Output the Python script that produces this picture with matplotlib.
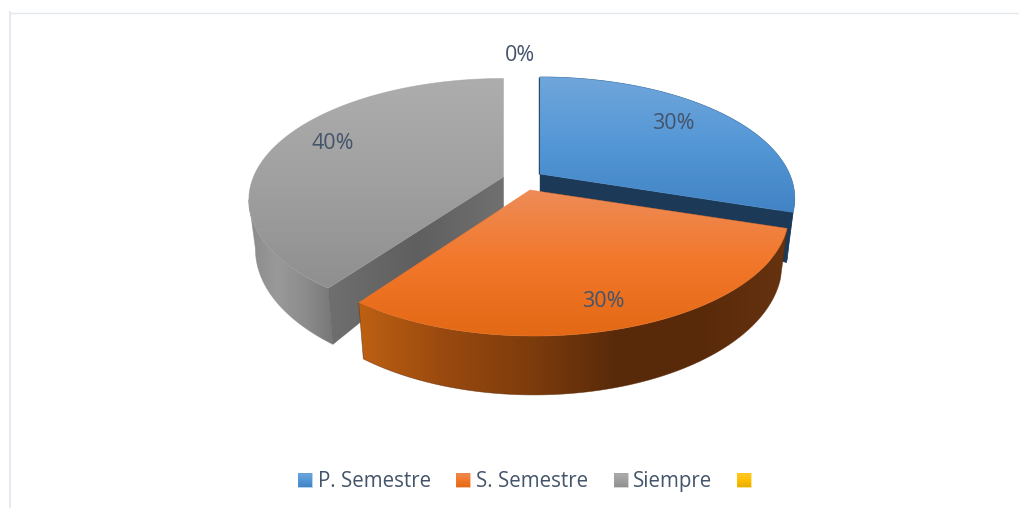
import numpy as np
import matplotlib
matplotlib.use("Agg")
import matplotlib.pyplot as plt
from matplotlib.patches import Polygon
from matplotlib.colors import LinearSegmentedColormap as LSC

categories = ["P. Semestre", "S. Semestre", "Siempre", ""]
values = [30, 30, 40, 0]

# view parameters of the exploded perspective pie (pixels)
RX, RY, K, DEPTH, SHRINK = 249.5, 116.6, 0.2017, 47.0, 0.026
APEX_DEPTH = 30.0
origins = [(540, 174), (534, 190), (503.5, 175.5), (520, 176)]
apex_pts = [(540, 174), (530, 190), (503.5, 177), (520, 176)]
top_grad = [["#70a6db", "#5497d6", "#4183c4"],
            ["#ee8c58", "#f2772a", "#e36915"],
            ["#adadad", "#a0a0a0", "#8f8f8f"],
            ["#ffc82e", "#ffc000", "#e6ad00"]]
side_grad = [["#1c3a57", "#1c3a57"],
             ["#bd6012", "#99490f", "#7d3c0c", "#592a0a", "#592a0a", "#673310"],
             ["#8b8b8b", "#999999", "#8c8c8c", "#767676"],
             ["#7f6000", "#7f6000"]]
face_grad = [["#1c3a57", "#1c3a57"], None, ["#6f6f6f", "#5f5f5f", "#707070"], None]
label_pos = [(673.5, 129), (603.5, 307), (333, 149), (520.5, 61)]
legend_box_x = [298, 456, 614, 737]
legend_text_x = [318, 476, 633, 757]
text_color = "#44546a"
LABEL_SIZE = 15.5
LEGEND_SIZE = 14.8
LEGEND_BASELINE = 487

fig = plt.figure(figsize=(10.19, 5.08), dpi=100)
ax = fig.add_axes([0, 0, 1, 1])
ax.set_xlim(0, 1019)
ax.set_ylim(508, 0)
ax.axis("off")

def project(origin, theta, r=1.0, z=0.0):
    X, Y = r * np.sin(theta), r * np.cos(theta)
    w = 1 + K * Y
    return (origin[0] + RX * X / w * (1 - SHRINK * z),
            origin[1] - RY * Y / w + DEPTH * z / w)

def fill(points, colors, vertical, zorder):
    pts = np.asarray(points)
    x0, x1 = pts[:, 0].min(), pts[:, 0].max()
    y0, y1 = pts[:, 1].min(), pts[:, 1].max()
    cmap = LSC.from_list("g", colors)
    g = np.linspace(0, 1, 256)
    data = g[:, None] if vertical else g[None, :]
    im = ax.imshow(data, cmap=cmap, extent=(x0, x1, y1, y0), origin="upper",
                   aspect="auto", zorder=zorder, interpolation="bilinear")
    patch = Polygon(pts, closed=True, transform=ax.transData, fc="none", ec="none")
    ax.add_patch(patch)
    im.set_clip_path(patch)
    ax.add_patch(Polygon(pts, closed=True, fc="none", ec=colors[len(colors)//2],
                         lw=0.5, alpha=0.6, zorder=zorder))

def wall(top_rim, low_rim):
    """Visible wall: stop at the leftmost silhouette point when the slice has one."""
    top = np.array(top_rim)
    low = np.array(low_rim)
    it, il = top[:, 0].argmin(), low[:, 0].argmin()
    if 0 < it < len(top) - 1:
        return top_rim[:it + 1] + low_rim[:il + 1][::-1]
    return top_rim + low_rim[::-1]

fracs = np.cumsum([0] + values) / sum(values) * 2 * np.pi
draw_order = [0, 2, 1]
base = 2
for i in draw_order:
    t0, t1 = fracs[i], fracs[i + 1]
    th = np.linspace(t0, t1, 160)
    org, apex = origins[i], apex_pts[i]
    top_rim = [project(org, t) for t in th]
    low_rim = [project(org, t, z=1) for t in th]
    low_apex = (apex[0], apex[1] + APEX_DEPTH)
    fill(wall(top_rim, low_rim), side_grad[i], False, base)
    if i == 0:
        fill([apex, top_rim[-1], low_rim[-1], low_apex], face_grad[i], False, base + 1)
        ax.plot([apex[0] - 1, top_rim[0][0] - 1], [apex[1], top_rim[0][1]],
                color="#1c3a57", lw=1.0, zorder=base + 1, solid_capstyle="butt")
    if i == 2:
        fill([apex, top_rim[0], low_rim[0], low_apex], face_grad[i], False, base + 1)
    fill([apex] + top_rim, top_grad[i], True, base + 2)
    base += 3

for v, (x, y) in zip(values, label_pos):
    ax.text(x, y, f"{v}%", color=text_color, fontsize=LABEL_SIZE, family="Open Sans",
            ha="center", va="baseline", zorder=30)

for i, cat in enumerate(categories):
    bx = legend_box_x[i]
    fill([(bx, 473), (bx + 14.5, 473), (bx + 14.5, 487), (bx, 487)], top_grad[i], True, 20)
    if cat:
        ax.text(legend_text_x[i], LEGEND_BASELINE, cat, color=text_color, fontsize=LEGEND_SIZE,
                family="Open Sans", ha="left", va="baseline", zorder=30)

ax.plot([10, 1019], [12.5, 12.5], color="#e3e8ec", lw=1.0, zorder=1)
ax.plot([10, 10], [12, 508], color="#e6e9f0", lw=1.4, zorder=1)

ax.set_xlim(0, 1019)
ax.set_ylim(508, 0)
fig.savefig("out.png", dpi=100, facecolor="white")
